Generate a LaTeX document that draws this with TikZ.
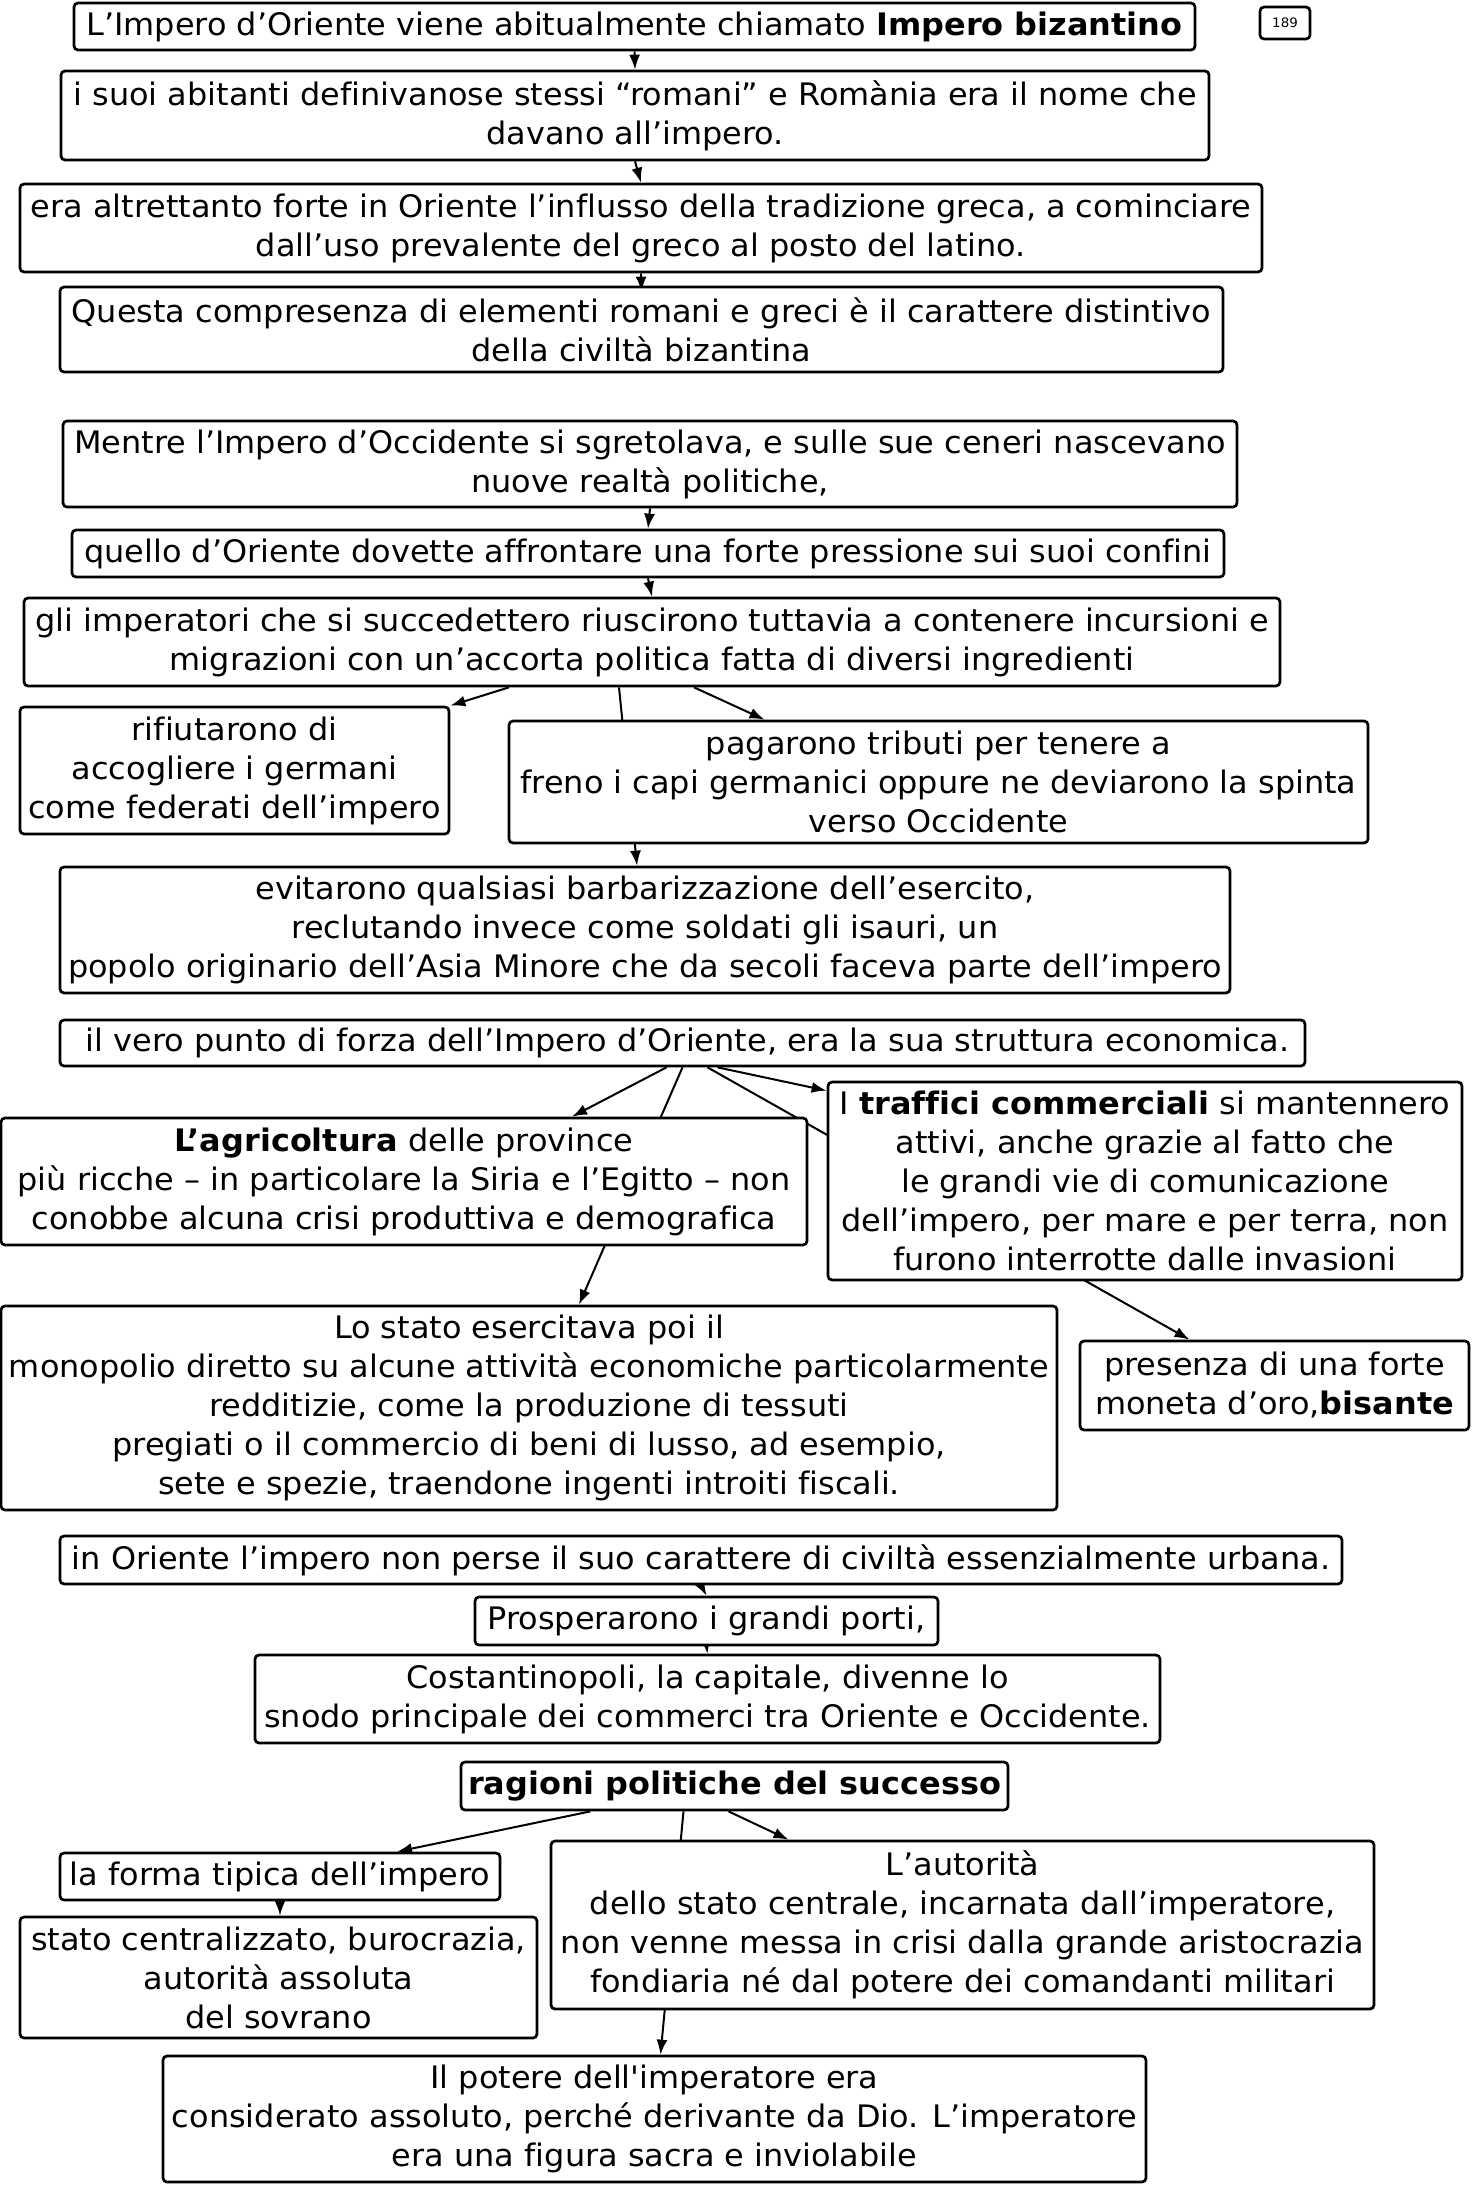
\documentclass[tikz,border=0pt]{standalone}
\usepackage{fontspec}
\setmainfont{DejaVu Sans}[FakeStretch=1.03, Ligatures=NoCommon]
\usetikzlibrary{arrows,arrows.meta}
\usetikzlibrary{backgrounds}
\tikzset{>=latex}
\tikzstyle{box} = [%
					draw, 
					fill = white,
					line width = 2.7,
					rounded corners = 4,
					align = center,
					inner sep = 2,
					font = \fontsize{31}{39}\selectfont
					]
\tikzstyle{link} = [line width = 2, ->]

\begin{document}
\begin{tikzpicture}[x=1pt,y=-1pt,>={Latex[length=15pt,width=11pt]}]
    % page frame, in pixels of the reference
    \useasboundingbox (0,0) rectangle (1472,2186);

    % Impero bizantino: nome e caratteri
    \node[box, minimum width=1121, minimum height=47] (b1) at (634.5,26.5)
        {L’Impero d’Oriente viene abitualmente chiamato \textbf{Impero bizantino}};
    \node[box, minimum width=50, minimum height=32, font=\fontsize{13}{15}\selectfont] (pg) at (1285,23) {189};
    \node[box, minimum width=1148, minimum height=89] (b2) at (635,115.5)
        {i suoi abitanti definivanose stessi “romani” e Romània era il nome che\\davano all’impero.};
    \node[box, minimum width=1242, minimum height=88] (b3) at (641,228)
        {era altrettanto forte in Oriente l’influsso della tradizione greca, a cominciare\\dall’uso prevalente del greco al posto del latino.};
    \node[box, minimum width=1163, minimum height=85] (b4) at (641.5,329.5)
        {Questa compresenza di elementi romani e greci è il carattere distintivo\\della civiltà bizantina};

    % pressione sui confini
    \node[box, minimum width=1174, minimum height=86] (b5) at (650,464)
        {Mentre l’Impero d’Occidente si sgretolava, e sulle sue ceneri nascevano\\nuove realtà politiche,};
    \node[box, minimum width=1152, minimum height=47] (b6) at (648,553.5)
        {quello d’Oriente dovette affrontare una forte pressione sui suoi confini};
    \node[box, minimum width=1256, minimum height=88] (b7) at (652,642)
        {gli imperatori che si succedettero riuscirono tuttavia a contenere incursioni e\\migrazioni con un’accorta politica fatta di diversi ingredienti};
    \node[box, minimum width=429, minimum height=127] (b8) at (234.5,770.5)
        {rifiutarono di\\accogliere i germani\\come federati dell’impero};
    \node[box, minimum width=859, minimum height=122] (b9) at (938.5,782)
        {pagarono tributi per tenere a\\freno i capi germanici oppure ne deviarono la spinta\\verso Occidente};
    \node[box, minimum width=1170, minimum height=126] (b10) at (645,930)
        {evitarono qualsiasi barbarizzazione dell’esercito,\\reclutando invece come soldati gli isauri, un\\popolo originario dell’Asia Minore che da secoli faceva parte dell’impero};

    % struttura economica
    \node[box, minimum width=1245, minimum height=46] (b11) at (682.5,1043)
        {\ il vero punto di forza dell’Impero d’Oriente, era la sua struttura economica.};
    \node[box, minimum width=806, minimum height=127] (b12) at (404,1181.5)
        {\textbf{L’agricoltura} delle province\\più ricche – in particolare la Siria e l’Egitto – non\\conobbe alcuna crisi produttiva e demografica};
    \node[box, minimum width=634, minimum height=198] (b13) at (1145,1181)
        {I \textbf{traffici commerciali} si mantennero\\attivi, anche grazie al fatto che\\le grandi vie di comunicazione\\dell’impero, per mare e per terra, non\\furono interrotte dalle invasioni};
    \node[box, minimum width=1056, minimum height=204] (b14) at (529,1408)
        {Lo stato esercitava poi il\\monopolio diretto su alcune attività economiche particolarmente\\redditizie, come la produzione di tessuti\\pregiati o il commercio di beni di lusso, ad esempio,\\sete e spezie, traendone ingenti introiti fiscali.};
    \node[box, minimum width=389, minimum height=89] (b15) at (1274.5,1385.5)
        {presenza di una forte\\moneta d’oro,\textbf{bisante}};

    % civiltà urbana
    \node[box, minimum width=1282, minimum height=48] (b16) at (701,1560)
        {in Oriente l’impero non perse il suo carattere di civiltà essenzialmente urbana.};
    \node[box, minimum width=463, minimum height=48] (b17) at (706.5,1621)
        {Prosperarono i grandi porti,};
    \node[box, minimum width=905, minimum height=88] (b18) at (707.5,1699)
        {Costantinopoli, la capitale, divenne lo\\snodo principale dei commerci tra Oriente e Occidente.};

    % ragioni politiche
    \node[box, minimum width=547, minimum height=48] (b19) at (734.5,1786)
        {\textbf{ragioni politiche del successo}};
    \node[box, minimum width=440, minimum height=47] (b20) at (280,1876.5)
        {la forma tipica dell’impero};
    \node[box, minimum width=517, minimum height=121] (b21) at (278.5,1977.5)
        {stato centralizzato, burocrazia,\\autorità assoluta\\del sovrano};
    \node[box, minimum width=823, minimum height=168] (b22) at (962.5,1925)
        {L’autorità\\dello stato centrale, incarnata dall’imperatore,\\non venne messa in crisi dalla grande aristocrazia\\fondiaria né dal potere dei comandanti militari};
    \node[box, minimum width=983, minimum height=126] (b23) at (654.5,2119)
        {Il potere dell\textquotesingle imperatore era\\considerato assoluto, perché derivante da Dio. L’imperatore\\era una figura sacra e inviolabile};

    % connectors go behind the boxes
    \begin{scope}[on background layer]
        \draw[link] (b1.south) -- (b2.north);
        \draw[link] (b2.south) -- (b3.north);
        \draw[link] (b3.south) -- ([yshift=-6pt]b4.north);
        \draw[link] (b5.south) -- (b6.north);
        \draw[link] (b6.south) -- (b7.north);
        \draw[link] ([xshift=-143pt]b7.south) -- (b8.north east);
        \draw[link] ([xshift=-33pt]b7.south) -- ([xshift=-8pt]b10.north);
        \draw[link] ([xshift=42pt]b7.south) -- ([xshift=-174pt]b9.north);
        \draw[link] ([xshift=-16pt]b11.south) -- ([xshift=168pt]b12.north);
        \draw[link] (b11.south) -- ([xshift=50pt]b14.north);
        \draw[link] ([xshift=25pt]b11.south) -- ([xshift=-85pt]b15.north);
        \draw[link] ([xshift=35pt]b11.south) -- ([yshift=-10pt]b13.north west);
        \draw[link] (b16.south) -- (b17.north);
        \draw[link] (b17.south) -- (b18.north);
        \draw[link] ([xshift=-144pt]b19.south) -- ([xshift=117pt]b20.north);
        \draw[link] ([xshift=-51pt]b19.south) -- ([xshift=6pt]b23.north);
        \draw[link] ([xshift=-6pt]b19.south) -- ([xshift=-174pt]b22.north);
        \draw[link] (b20.south) -- (b20.south |- b21.north);
    \end{scope}

\end{tikzpicture}
\end{document}
